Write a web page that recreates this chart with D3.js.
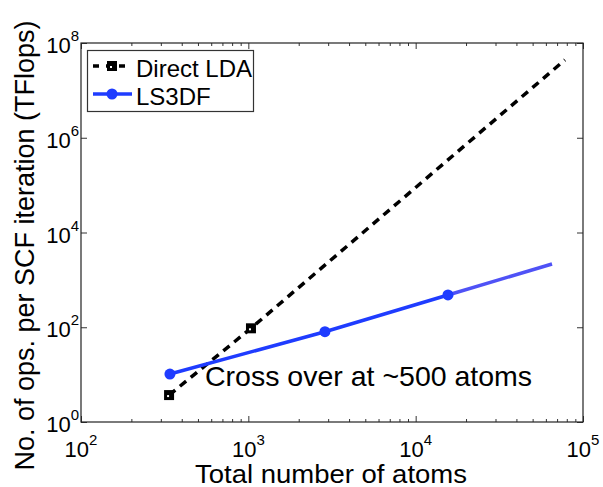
<!DOCTYPE html>
<html>
<head>
<meta charset="utf-8">
<script src="https://cdn.jsdelivr.net/npm/d3@7"></script>
<style>
  html, body { margin: 0; padding: 0; background: #fff; }
  svg text { font-family: "Liberation Sans", Arial, Helvetica, sans-serif; fill: #000; }
</style>
</head>
<body>
<svg id="chart" width="603" height="487"></svg>
<script>
// Direct LDA: measured points plus N^3 extrapolation
const ldaAtoms = [336, 1037, 78000];
const ldaOps = [3.7, 95, 4.4e7];
const ldaMarked = [true, true, false];

// LS3DF: measured points plus linear-scaling extrapolation
const lsAtoms = [340, 2870, 15600];
const lsOps = [10.3, 80.5, 480];
const lsExtraAtoms = [15600, 65300];
const lsExtraOps = [480, 2160];

const xTickValues = [1e2, 1e3, 1e4, 1e5];
const xTickExponents = ["2", "3", "4", "5"];
const yTickValues = [1e0, 1e2, 1e4, 1e6, 1e8];
const yTickExponents = ["0", "2", "4", "6", "8"];

const seriesNames = ["Direct LDA", "LS3DF"];
const annotation = "Cross over at ~500 atoms";
const xTitle = "Total number of atoms";
const yTitle = "No. of ops. per SCF iteration (TFlops)";

const svg = d3.select("#chart");
const plotL = 81, plotR = 583, plotT = 43, plotB = 422;
const blue = "#1f3cff";
const blueLight = "#4f52f6";

const x = d3.scaleLog().domain([1e2, 1e5]).range([plotL, plotR]);
const y = d3.scaleLog().domain([1e0, 1e8]).range([plotB, plotT]);

// minor x ticks 2..9 per decade
const xMinor = [];
for (let e = 2; e < 5; e++) for (let m = 2; m <= 9; m++) xMinor.push(m * Math.pow(10, e));

const g = svg.append("g");

// ticks drawn inward on all four sides
function tickSet(axisGen, vals, len, transform) {
  const a = g.append("g").attr("transform", transform)
    .call(axisGen.tickValues(vals).tickSize(len).tickSizeOuter(0).tickFormat(""));
  a.select(".domain").remove();
  a.selectAll("line").attr("stroke", "#333").attr("stroke-width", 1);
}
tickSet(d3.axisTop(x), xMinor, 3, `translate(0,${plotB})`);
tickSet(d3.axisTop(x), xTickValues, 6, `translate(0,${plotB})`);
tickSet(d3.axisBottom(x), xMinor, 3, `translate(0,${plotT})`);
tickSet(d3.axisBottom(x), xTickValues, 6, `translate(0,${plotT})`);
tickSet(d3.axisRight(y), yTickValues, 6, `translate(${plotL},0)`);
tickSet(d3.axisLeft(y), yTickValues, 6, `translate(${plotR},0)`);

// frame
g.append("rect").attr("x", plotL).attr("y", plotT)
  .attr("width", plotR - plotL).attr("height", plotB - plotT)
  .attr("fill", "none").attr("stroke", "#222").attr("stroke-width", 1.2);

// tick labels as 10 with superscript exponent
xTickValues.forEach((v, i) => {
  const t = g.append("text").attr("x", x(v)).attr("y", 457)
    .attr("text-anchor", "middle").attr("font-size", 22);
  t.append("tspan").text("10");
  t.append("tspan").attr("font-size", 15).attr("dy", -12).text(xTickExponents[i]);
});
yTickValues.forEach((v, i) => {
  const t = g.append("text").attr("x", 79).attr("y", y(v) + 10)
    .attr("text-anchor", "end").attr("font-size", 22);
  t.append("tspan").text("10");
  t.append("tspan").attr("font-size", 15).attr("dy", -12).text(yTickExponents[i]);
});

// axis titles (slightly widened glyphs)
g.append("text")
  .attr("transform", `translate(${(plotL + plotR) / 2 - 1},483) scale(1.1,1)`)
  .attr("text-anchor", "middle").attr("font-size", 25).text(xTitle);
g.append("text")
  .attr("transform", `translate(34,${(plotT + plotB) / 2 + 13}) rotate(-90)`)
  .attr("text-anchor", "middle").attr("font-size", 27).text(yTitle);

const line = d3.line().x(d => x(d[0])).y(d => y(d[1]));

// Direct LDA dashed line
const ldaPts = ldaAtoms.map((a, i) => [a, ldaOps[i]]);
g.append("path").attr("d", line(ldaPts)).attr("fill", "none")
  .attr("stroke", "#000").attr("stroke-width", 3.5).attr("stroke-dasharray", "8,6");

// LS3DF extrapolation then measured line
g.append("path").attr("d", line(lsExtraAtoms.map((a, i) => [a, lsExtraOps[i]])))
  .attr("fill", "none").attr("stroke", blueLight).attr("stroke-width", 3.5);
const lsPts = lsAtoms.map((a, i) => [a, lsOps[i]]);
g.append("path").attr("d", line(lsPts)).attr("fill", "none")
  .attr("stroke", blue).attr("stroke-width", 3.5);

function square(sel, cx, cy) {
  sel.append("rect").attr("x", cx - 5).attr("y", cy - 5).attr("width", 10).attr("height", 10).attr("fill", "#000");
  sel.append("rect").attr("x", cx - 2).attr("y", cy).attr("width", 2).attr("height", 2).attr("fill", "#fff");
}
ldaPts.forEach((p, i) => { if (ldaMarked[i]) square(g, x(p[0]), y(p[1])); });
g.selectAll("circle.ls").data(lsPts).join("circle").attr("class", "ls")
  .attr("cx", d => x(d[0])).attr("cy", d => y(d[1])).attr("r", 5.5).attr("fill", blue);

// annotation
g.append("text").attr("x", 205).attr("y", 386).attr("font-size", 28.5).text(annotation);

// legend
const lg = g.append("g");
lg.append("rect").attr("x", 87.5).attr("y", 50.5).attr("width", 166).attr("height", 61)
  .attr("fill", "#fff").attr("stroke", "#333").attr("stroke-width", 1.2);
lg.append("line").attr("x1", 93).attr("x2", 132).attr("y1", 66).attr("y2", 66)
  .attr("stroke", "#000").attr("stroke-width", 3.5).attr("stroke-dasharray", "6,7");
square(lg, 112, 66);
lg.append("line").attr("x1", 93).attr("x2", 132).attr("y1", 94).attr("y2", 94)
  .attr("stroke", blue).attr("stroke-width", 3.5);
lg.append("circle").attr("cx", 112).attr("cy", 94).attr("r", 5.5).attr("fill", blue);
lg.append("text").attr("x", 136).attr("y", 77).attr("font-size", 24).text(seriesNames[0]);
lg.append("text").attr("x", 136).attr("y", 105).attr("font-size", 24).text(seriesNames[1]);
</script>
</body>
</html>
